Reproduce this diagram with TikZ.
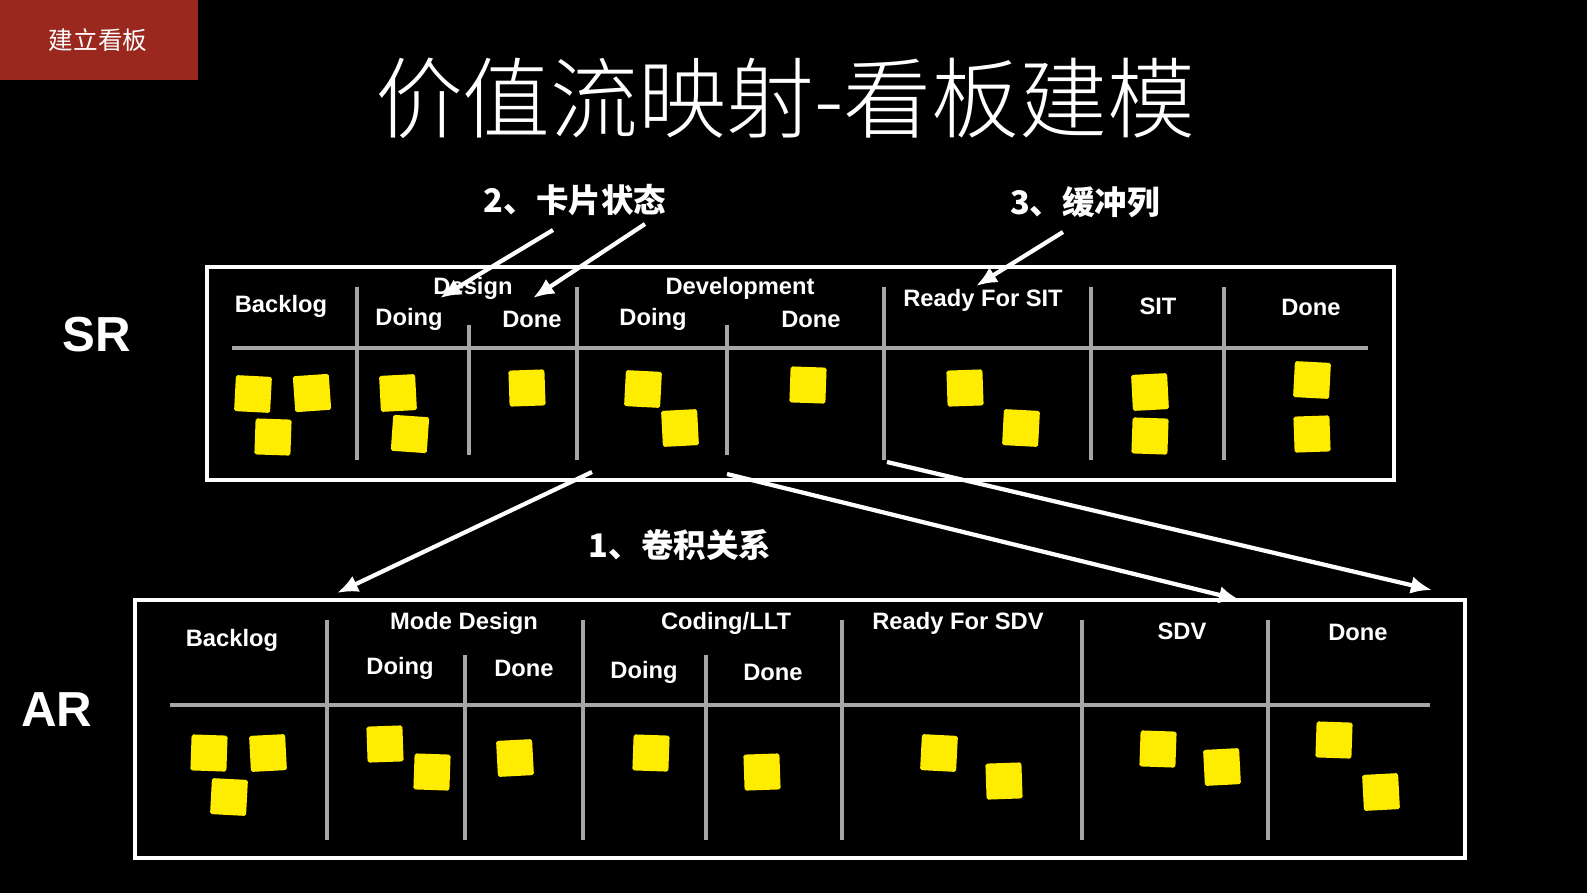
\documentclass[tikz,border=0pt]{standalone}
\usepackage{fontspec}
\setmainfont{Liberation Sans}
\newfontfamily\cjk{Noto Sans CJK SC}
\newfontfamily\cjklight{Noto Sans CJK SC Light}
\begin{document}
\begin{tikzpicture}[x=0.02cm,y=-0.02cm,
  lbl/.style={text=white,font=\bfseries\fontsize{13.5}{15}\selectfont,inner sep=0pt},
  cn/.style={text=white,font=\cjk\bfseries\fontsize{18.5}{20}\selectfont,inner sep=0pt},
  chalk/.style={draw=gray!70,line width=2.8pt},
  frame/.style={draw=white,line width=1.8pt},
  arr/.style={draw=white,line width=2.4pt,-{Latex[length=12pt,width=10pt]}},
  note/.style={fill=yellow!95!orange,minimum size=20.5pt,inner sep=0pt,rounded corners=1pt}]
\usetikzlibrary{arrows.meta}
\fill[black] (0,0) rectangle (1587,893);
\useasboundingbox (0,0) rectangle (1587,893);
\node[fill={rgb,255:red,155;green,40;blue,30},minimum width=198*0.567pt,minimum height=80*0.567pt,anchor=north west,inner sep=0pt] (tag) at (0,0) {};
\node[text=white,font=\cjk\fontsize{14}{16}\selectfont] (tagt) at (98,40) {建立看板};
\node[text=white,font=\cjklight\fontsize{50}{54}\selectfont] (title) at (785,98) {价值流映射-看板建模};
\node[text=white,font=\bfseries\fontsize{28}{30}\selectfont] (sr) at (97,335) {SR};
\node[text=white,font=\bfseries\fontsize{28}{30}\selectfont] (ar) at (57,710) {AR};
% SR board
\draw[frame] (207,267) rectangle (1394,480);
\draw[chalk] (232,348) -- (1368,348);
\foreach \x/\a/\b in {357/287/460,469/325/455,577/287/460,727/325/455,884/287/460,1091/287/460,1224/287/460}
  \draw[chalk] (\x,\a) -- (\x,\b);
\node[lbl] (s1) at (281,306) {Backlog};
\node[lbl] (s2) at (473,288) {Design};
\node[lbl] (s3) at (409,319) {Doing};
\node[lbl] (s4) at (532,319) {Done};
\node[lbl] (s5) at (740,288) {Development};
\node[lbl] (s6) at (653,319) {Doing};
\node[lbl] (s7) at (811,319) {Done};
\node[lbl] (s8) at (983,300) {Ready For SIT};
\node[lbl] (s9) at (1158,306) {SIT};
\node[lbl] (s10) at (1311,307) {Done};
\foreach \x/\y/\r [count=\i] in {253/394/-3,312/393/4,273/437/-2,398/393/3,410/434/-4,527/388/2,643/389/-3,680/428/3,808/385/-2,965/388/2,1021/428/-3,1150/392/3,1150/436/-2,1312/380/-3,1312/434/2}
  \node[note,rotate=\r] (sn\i) at (\x,\y) {};
% AR board
\draw[frame] (135,600) rectangle (1465,858);
\draw[chalk] (170,705) -- (1430,705);
\foreach \x/\a/\b in {327/620/840,465/655/840,583/620/840,706/655/840,842/620/840,1082/620/840,1268/620/840}
  \draw[chalk] (\x,\a) -- (\x,\b);
\node[lbl] (a1) at (232,640) {Backlog};
\node[lbl] (a2) at (464,623) {Mode Design};
\node[lbl] (a3) at (400,668) {Doing};
\node[lbl] (a4) at (524,668) {Done};
\node[lbl] (a5) at (726,623) {Coding/LLT};
\node[lbl] (a6) at (644,672) {Doing};
\node[lbl] (a7) at (773,672) {Done};
\node[lbl] (a8) at (958,623) {Ready For SDV};
\node[lbl] (a9) at (1182,631) {SDV};
\node[lbl] (a10) at (1358,632) {Done};
\foreach \x/\y/\r [count=\i] in {209/753/-2,268/753/3,229/797/-3,385/744/2,432/772/-2,515/758/3,651/753/-2,762/772/2,939/753/-3,1004/781/2,1158/749/-2,1222/767/3,1334/740/-2,1381/792/3}
  \node[note,rotate=\r] (an\i) at (\x,\y) {};
% labels
\node[cn] (l2) at (575,200) {2、卡片状态};
\node[cn] (l3) at (1085,202) {3、缓冲列};
\node[cn] (l1) at (680,545) {1、卷积关系};
% arrows
\coordinate (p1) at (553,230); \coordinate (q1) at (440,298);
\coordinate (p2) at (645,224); \coordinate (q2) at (533,298);
\coordinate (p3) at (1063,232); \coordinate (q3) at (976,286);
\coordinate (p4) at (592,472); \coordinate (q4) at (337,593);
\coordinate (p5) at (727,474); \coordinate (q5) at (1240,600);
\coordinate (p6) at (887,462); \coordinate (q6) at (1432,590);
\foreach \i in {1,...,6} \draw[arr] (p\i) -- (q\i);
\end{tikzpicture}
\end{document}
